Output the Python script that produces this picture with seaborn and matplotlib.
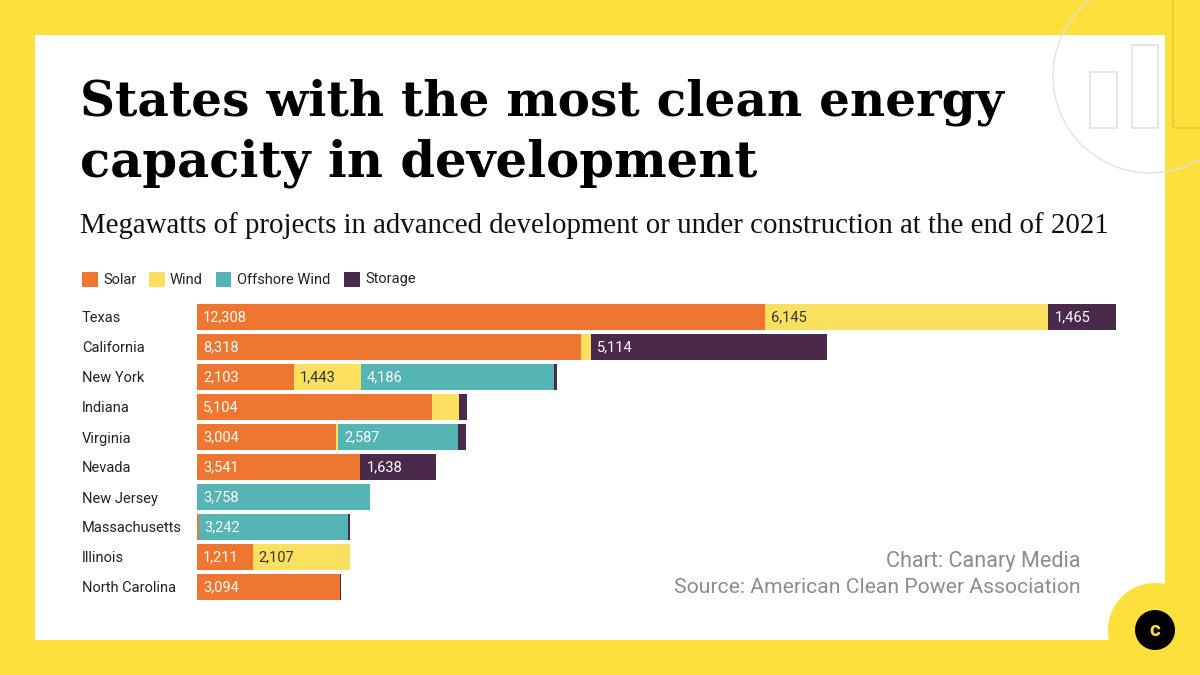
import numpy as np
import pandas as pd
import matplotlib
matplotlib.use('Agg')
import matplotlib.pyplot as plt
import seaborn as sns
from matplotlib.patches import Rectangle, Circle

# data (MW)
states = ['Texas', 'California', 'New York', 'Indiana', 'Virginia', 'Nevada',
          'New Jersey', 'Massachusetts', 'Illinois', 'North Carolina']
solar = [12308, 8318, 2103, 5104, 3004, 3541, 0, 40, 1211, 3094]
wind = [6145, 220, 1443, 575, 60, 0, 0, 0, 2107, 0]
offshore = [0, 0, 4186, 0, 2587, 0, 3758, 3242, 0, 0]
storage = [1465, 5114, 80, 175, 170, 1638, 0, 40, 0, 25]

sources = ['Solar', 'Wind', 'Offshore Wind', 'Storage']
colors = {'Solar': '#EF7630', 'Wind': '#FAE05E', 'Offshore Wind': '#55B5B4', 'Storage': '#4A2A4B'}
text_colors = {'Solar': 'white', 'Wind': '#333333', 'Offshore Wind': 'white', 'Storage': 'white'}

YELLOW = '#FDE03B'
W, H = 1200, 675

df = pd.DataFrame({'state': states, 'Solar': solar, 'Wind': wind,
                   'Offshore Wind': offshore, 'Storage': storage})
cum = df[sources].cumsum(axis=1)

sns.set_theme(style='white')
plt.rcParams['font.family'] = ['Roboto', 'DejaVu Sans']

fig = plt.figure(figsize=(12, 6.75), dpi=100)
fig.patch.set_facecolor(YELLOW)
px = fig.dpi_scale_trans


def P(x, y):
    # pixel (from top-left) -> inches for dpi_scale_trans
    return x / 100, (H - y) / 100


# white panel
fig.add_artist(Rectangle(P(35, 640), 11.30, 6.05, transform=px,
                         facecolor='white', edgecolor='none', zorder=0))

# decoration top right
deco = '#E2E2E2'
fig.add_artist(Circle(P(1150, 76), 0.97, transform=px, facecolor='none',
                      edgecolor=deco, lw=1, zorder=1))
fig.add_artist(Rectangle(P(1090, 128), 0.27, 0.56, transform=px, facecolor='none',
                         edgecolor=deco, lw=1.2, zorder=1))
fig.add_artist(Rectangle(P(1132, 128), 0.26, 0.83, transform=px, facecolor='none',
                         edgecolor=deco, lw=1.2, zorder=1))
fig.add_artist(Rectangle(P(1173, 128), 0.40, 1.40, transform=px, facecolor='none',
                         edgecolor='#E8CC35', lw=1.2, zorder=1))

# logo bottom right
fig.add_artist(Circle(P(1155, 630), 0.47, transform=px, facecolor=YELLOW,
                      edgecolor='none', zorder=1))
fig.add_artist(Circle(P(1155, 630), 0.20, transform=px, facecolor='black',
                      edgecolor='none', zorder=2))
fig.text(1155 / W, 1 - 631 / H, 'c', color=YELLOW, fontsize=15, fontweight='bold',
         ha='center', va='center', zorder=3)

# bars
ax = fig.add_axes([197 / W, 1 - 602 / H, 919 / W, 300 / H])
ax.set_facecolor('none')
for src in reversed(sources):
    sns.barplot(x=cum[src], y=df['state'], color=colors[src], saturation=1,
                width=0.84, linewidth=0, orient='h', ax=ax)
ax.set_xlim(0, cum['Storage'].max())
ax.set_ylim(len(states) - 0.5, -0.5)
sns.despine(ax=ax, left=True, bottom=True)
ax.set_xticks([])
ax.set_xlabel('')
ax.set_ylabel('')
ax.tick_params(axis='y', length=0, pad=115 * 0.72, labelsize=10.5, labelcolor='#222222')
for lbl in ax.get_yticklabels():
    lbl.set_horizontalalignment('left')

offset = 6 / (919 / cum['Storage'].max())
for i in range(len(states)):
    for src in sources:
        v = df.loc[i, src]
        if v >= 1000:
            left = cum.loc[i, src] - v
            ax.text(left + offset, i, f'{v:,}', va='center', ha='left',
                    fontsize=10.5, color=text_colors[src])

# legend
lx = [82, 149, 216, 344]
for x, src in zip(lx, sources):
    fig.add_artist(Rectangle(P(x, 287), 0.155, 0.155, transform=px,
                             facecolor=colors[src], edgecolor='none'))
    fig.text((x + 21) / W, 1 - 279.5 / H, src, fontsize=10.5, color='#222222',
             ha='left', va='center')

renderer = fig.canvas.get_renderer()


def fit_text(x, y, s, target, fs, **kw):
    t = fig.text(x / W, 1 - y / H, s, fontsize=fs, va='baseline', **kw)
    w = t.get_window_extent(renderer).width
    t.set_fontsize(fs * target / w)
    return t


serif_bold = dict(family=['DejaVu Serif'], fontweight='bold', color='black')
fit_text(80, 115, 'States with the most clean energy', 923, 40, **serif_bold)
fit_text(80, 177, 'capacity in development', 677, 40, **serif_bold)
fit_text(80, 233, 'Megawatts of projects in advanced development or under construction '
         'at the end of 2021', 1030, 16, family=['Liberation Serif'], color='#111111')

fit_text(1081, 567, 'Chart: Canary Media', 195, 13, color='#8C8C8C', ha='right')
fit_text(1081, 593, 'Source: American Clean Power Association', 406, 13,
         color='#8C8C8C', ha='right')

fig.savefig('out.png', dpi=100, facecolor=fig.get_facecolor())
